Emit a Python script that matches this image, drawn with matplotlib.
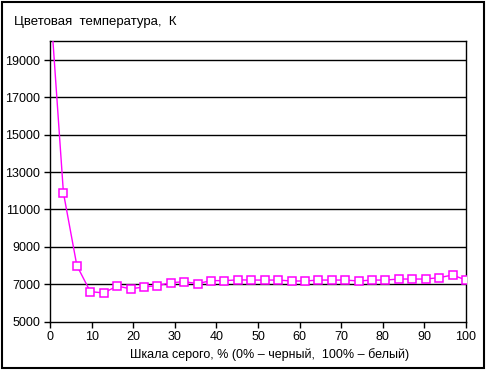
import numpy as np
import matplotlib
matplotlib.use("Agg")
import matplotlib.pyplot as plt
from matplotlib.patches import Rectangle

plt.rcParams['font.family'] = ['Liberation Sans', 'DejaVu Sans']

# Gray level (%) and measured colour temperature (K)
gray_pct = np.arange(32) * 100 / 31
color_temp = [22300, 11900, 8000, 6600, 6530, 6900, 6750, 6850, 6920, 7080,
              7130, 7030, 7190, 7190, 7230, 7220, 7220, 7220, 7170, 7170,
              7220, 7220, 7220, 7170, 7220, 7220, 7275, 7275, 7275, 7350,
              7490, 7220]

y_ticks = [5000, 7000, 9000, 11000, 13000, 15000, 17000, 19000]
x_ticks = [0, 10, 20, 30, 40, 50, 60, 70, 80, 90, 100]

W, H = 487, 371
fig = plt.figure(figsize=(W / 100, H / 100), dpi=100)
ax = fig.add_axes([50 / W, (H - 321.5) / H, 416 / W, 280 / H])

ax.plot(gray_pct, color_temp, color='#FF00FF', lw=1.0, marker='s', ms=6.2,
        mfc='white', mec='#FF00FF', mew=1.1, zorder=3, clip_on=True)

ax.set_xlim(0, 100)
ax.set_ylim(5000, 20000)
ax.set_xticks(x_ticks)
ax.set_yticks(y_ticks)
ax.tick_params(direction='out', length=4, width=1, labelsize=9, pad=3)
for y in y_ticks[1:]:
    ax.axhline(y, color='black', lw=1.0, zorder=1)
for s in ax.spines.values():
    s.set_linewidth(1.0)

fig.text(14 / W, 1 - 22 / H, 'Цветовая  температура,  К', fontsize=9.5,
         ha='left', va='center')
fig.text(270 / W, 1 - 355 / H, 'Шкала серого, % (0% – черный,  100% – белый)',
         fontsize=9.0, ha='center', va='center')

fig.patches.append(Rectangle((1.5 / W, 3.5 / H), 482.5 / W, 366 / H,
                             transform=fig.transFigure, fill=False,
                             edgecolor='black', lw=1.5))

fig.savefig('out.png', dpi=100)
